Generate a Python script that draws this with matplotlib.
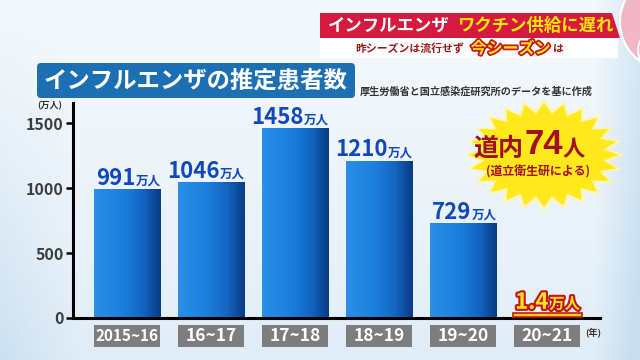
import numpy as np
import matplotlib
matplotlib.use("Agg")
import matplotlib.pyplot as plt
from matplotlib import patheffects as pe
from matplotlib.patches import Rectangle, FancyBboxPatch, Polygon, Circle
from matplotlib.transforms import blended_transform_factory
from matplotlib.colors import LinearSegmentedColormap

plt.rcParams['font.family'] = ['Noto Sans CJK JP', 'DejaVu Sans']
plt.rcParams['font.weight'] = 'bold'

# data (万人)
seasons = ['2015~16', '16~17', '17~18', '18~19', '19~20', '20~21']
patients = [991, 1046, 1458, 1210, 729, 1.4]
value_text = ['991', '1046', '1458', '1210', '729', '1.4']
y_ticks = [0, 500, 1000, 1500]

DARKRED = '#a3101c'

fig = plt.figure(figsize=(6.4, 3.6), dpi=100)

# ---- background and decorations, in pixel coordinates
bg = fig.add_axes([0, 0, 1, 1], zorder=0)
bg.set_xlim(0, 640)
bg.set_ylim(360, 0)
bg.axis('off')
gy, gx = np.mgrid[0:1:180j, 0:1:320j]
shade = (0.45 * gy ** 1.5 + 0.7 * np.clip((gx - 0.93) / 0.07, 0, 1)
         + 0.5 * np.clip((0.12 - gx) / 0.12, 0, 1) * gy)
bg_cmap = LinearSegmentedColormap.from_list('bg', ['#f3f8fc', '#c9dff0'])
bg.imshow(shade, extent=(0, 640, 360, 0), cmap=bg_cmap, vmin=0, vmax=1,
          aspect='auto', zorder=0)

# pink circles top right
bg.add_patch(Circle((668, 22), 48, fc='#f2b6c6', ec='white', lw=1.5, zorder=1))
bg.add_patch(Circle((660, 50), 22, fc='#f5c6d3', ec='white', lw=1.2, zorder=1))

# headline banner
bg.add_patch(Polygon([(320, 13), (612, 13), (620, 38), (320, 38)],
                     closed=True, fc='#d6193e', ec='none', zorder=2))
bg.add_patch(Rectangle((320, 38), 298, 20, fc='white', ec='none', zorder=2))
bg.text(328, 26, 'インフルエンザ', color='white', fontsize=12.5,
        ha='left', va='center', zorder=3)
bg.text(457, 26, 'ワクチン供給に遅れ', color='#ffe600', fontsize=12.5,
        ha='left', va='center', zorder=3)
t1 = bg.text(355, 48.5, '昨シーズンは流行せず', color='#9a1a1a', fontsize=7.8,
             ha='left', va='center', zorder=3)
t2 = bg.annotate('今シーズン', xy=(1, 0.5), xycoords=t1, xytext=(5, 0),
                 textcoords='offset points', color='#ffe21a', fontsize=11.5,
                 ha='left', va='center', zorder=3,
                 path_effects=[pe.withStroke(linewidth=2.5, foreground='#c8141c')])
bg.annotate('は', xy=(1, 0.5), xycoords=t2, xytext=(1.5, 0),
            textcoords='offset points', color='#9a1a1a', fontsize=7.8,
            ha='left', va='center', zorder=3)

# title box
bg.add_patch(FancyBboxPatch((37, 63), 318, 35,
                            boxstyle='round,pad=0,rounding_size=4',
                            fc='#1d6fb3', ec='none', zorder=2))
bg.text(44, 81, 'インフルエンザの推定患者数', color='white', fontsize=16.8,
        ha='left', va='center', zorder=3)
bg.text(360, 91.5, '厚生労働省と国立感染症研究所のデータを基に作成',
        color='#333333', fontsize=7.3, ha='left', va='center', zorder=3)

# starburst
cx, cy = 544, 155
ang = np.linspace(0, 2 * np.pi, 48, endpoint=False)
rad = np.where(np.arange(48) % 2 == 0, 1.0, 0.8)
bg.add_patch(Polygon(np.c_[cx + 80 * rad * np.cos(ang), cy + 56 * rad * np.sin(ang)],
                     closed=True, fc='#fff6a8', ec='none', zorder=2))
bg.add_patch(Polygon(np.c_[cx + 75 * rad * np.cos(ang), cy + 52 * rad * np.sin(ang)],
                     closed=True, fc='#ffe81c', ec='none', zorder=2))
s1 = bg.text(473, 156, '道内', color=DARKRED, fontsize=18,
             ha='left', va='baseline', zorder=3)
s2 = bg.annotate('74', xy=(1, 0), xycoords=s1, xytext=(1, 0),
                 textcoords='offset points', color=DARKRED, fontsize=25,
                 ha='left', va='bottom', zorder=3, family=['Liberation Sans', 'DejaVu Sans'])
bg.annotate('人', xy=(1, 0), xycoords=s2, xytext=(0, 0),
            textcoords='offset points', color=DARKRED, fontsize=16,
            ha='left', va='bottom', zorder=3)
bg.text(538, 171.5, '(道立衛生研による)', color=DARKRED, fontsize=8.6,
        ha='center', va='center', zorder=3)

# ---- main chart
ax = fig.add_axes([73 / 640, 42 / 360, 527 / 640, 215 / 360], zorder=1)
ax.set_facecolor('none')
x = np.arange(len(seasons))
bars = ax.bar(x, patients, width=0.786, color='#1b7ad6', zorder=2)

bar_cmap = LinearSegmentedColormap.from_list(
    'bar', [(0, '#2a8fe9'), (0.45, '#1c7edb'), (0.75, '#1363bf'), (1, '#0a3b84')])
grad = np.linspace(0, 1, 64).reshape(1, -1)
for b in bars:
    im = ax.imshow(grad, extent=(b.get_x(), b.get_x() + b.get_width(), 0, b.get_height()),
                   aspect='auto', cmap=bar_cmap, zorder=2.1)
    im.set_clip_path(b)

ax.set_xlim(-0.643, 5.631)
ax.set_ylim(0, 1654)

for sp in ['top', 'right']:
    ax.spines[sp].set_visible(False)
for sp in ['left', 'bottom']:
    ax.spines[sp].set_linewidth(2.2)
    ax.spines[sp].set_color('black')
    ax.spines[sp].set_zorder(3)

ax.set_yticks(y_ticks)
ax.set_yticklabels([str(v) for v in y_ticks], fontsize=11.5,
                   color='#3c3c3c', fontweight='bold')
ax.tick_params(axis='y', length=5, width=1.8, pad=1.5, color='black')
ax.set_xticks([])

# value labels
for i, (v, s) in enumerate(zip(patients, value_text)):
    if i < 5:
        ax.annotate(s, xy=(i + 0.1, v), xytext=(0, 3.2), textcoords='offset points',
                    ha='right', va='baseline', color='#1048c0', fontsize=16,
                    fontweight='bold', zorder=4)
        ax.annotate('万人', xy=(i + 0.1, v), xytext=(0.5, 3.2), textcoords='offset points',
                    ha='left', va='baseline', color='#1048c0', fontsize=9, zorder=4)
    else:
        stroke = [pe.withStroke(linewidth=3, foreground='#c2141c')]
        ax.annotate(s, xy=(i + 0.02, v), xytext=(0, 6.5), textcoords='offset points',
                    ha='right', va='baseline', color='#ffe21a', fontsize=16,
                    fontweight='bold', zorder=4, path_effects=stroke)
        ax.annotate('万人', xy=(i + 0.02, v), xytext=(0.5, 6.5), textcoords='offset points',
                    ha='left', va='baseline', color='#ffe21a', fontsize=11,
                    zorder=4, path_effects=stroke)
        ax.add_patch(Rectangle((i - 0.41, 8), 0.83, 30, fc='#ffd21a', ec='#c8141c',
                               lw=1.2, zorder=4, clip_on=False))

# category boxes
trans = blended_transform_factory(ax.transData, ax.transAxes)
for i, s in enumerate(seasons):
    ax.add_patch(Rectangle((i - 0.393, -0.135), 0.786, 0.1023, transform=trans,
                           fc='#7d7d7d', ec='none', clip_on=False, zorder=3))
    ax.text(i, -0.084, s, transform=trans, ha='center', va='center',
            color='white', fontsize=11 if i == 0 else 12.5, zorder=4)

ax.text(0.987, -0.065, '(年)', transform=ax.transAxes, ha='center', va='center',
        fontsize=6.5, color='#333333')
ax.text(-0.044, 0.986, '(万人)', transform=ax.transAxes, ha='center', va='center',
        fontsize=6.5, color='#333333')

fig.savefig('out.png', dpi=100)
